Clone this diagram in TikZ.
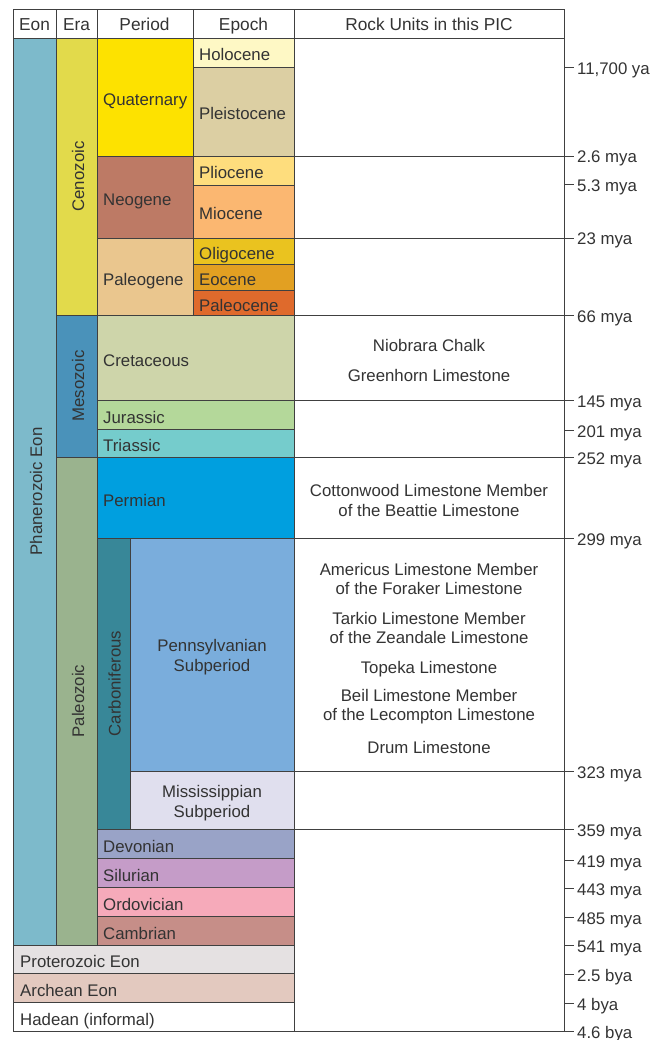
\documentclass[tikz,border=0pt]{standalone}
\usepackage{fontspec}
\setmainfont{Liberation Sans}
\usepackage{xcolor}

\definecolor{rule}{HTML}{404040}
\definecolor{ink}{HTML}{333333}
\definecolor{phanero}{HTML}{7DBACB}
\definecolor{ceno}{HTML}{E2DA4B}
\definecolor{meso}{HTML}{4A92BA}
\definecolor{paleo}{HTML}{9AB38E}
\definecolor{quat}{HTML}{FDE200}
\definecolor{holo}{HTML}{FEF8C5}
\definecolor{pleisto}{HTML}{DCCFA3}
\definecolor{neo}{HTML}{BD7A65}
\definecolor{plio}{HTML}{FEDD7D}
\definecolor{mio}{HTML}{FBB771}
\definecolor{paleog}{HTML}{EAC68E}
\definecolor{oligo}{HTML}{EAC31F}
\definecolor{eo}{HTML}{E2A022}
\definecolor{paleoc}{HTML}{DF6A2C}
\definecolor{creta}{HTML}{CED5AA}
\definecolor{jura}{HTML}{B4D89A}
\definecolor{trias}{HTML}{75CCCC}
\definecolor{perm}{HTML}{009FDF}
\definecolor{carbo}{HTML}{388798}
\definecolor{penn}{HTML}{7AADDC}
\definecolor{missi}{HTML}{E0DFEE}
\definecolor{devo}{HTML}{99A3C7}
\definecolor{silu}{HTML}{C59CC8}
\definecolor{ordo}{HTML}{F6AABA}
\definecolor{camb}{HTML}{C68E88}
\definecolor{protero}{HTML}{E5E1E2}
\definecolor{arche}{HTML}{E3C9BF}

\begin{document}
\begin{tikzpicture}[x=1pt,y=-1pt,
    cell/.style={draw=rule,line width=0.9pt},
    lbl/.style={inner sep=0pt,text=ink,font=\fontsize{16.8}{19.5}\selectfont,text height=12pt,text depth=0pt},
    head/.style={lbl,font=\fontsize{17.3}{19.5}\selectfont},
    twoline/.style={inner sep=0pt,text=ink,font=\fontsize{16.8}{19.5}\selectfont,align=center}]
        \useasboundingbox (0,0) rectangle (662,1040);

        % Entete
        \draw[cell] (13,9) rectangle (56,38);
        \draw[cell] (56,9) rectangle (97,38);
        \draw[cell] (97,9) rectangle (193,38);
        \draw[cell] (193,9) rectangle (294,38);
        \draw[cell] (294,9) rectangle (564,38);
        \path (34.5,25) node[head] (hEon) {Eon};
        \path (76.5,25) node[head] (hEra) {Era};
        \path (144.5,25) node[head] (hPeriod) {Period};
        \path (243.5,25) node[head] (hEpoch) {Epoch};
        \path (429,25) node[head] (hRock) {Rock Units in this PIC};

        % Colonne des roches et graduations
        \draw[cell] (294,38) rectangle (564,1031);
        \foreach \y in {156,238,315,400,457,538,771,829,1031}
            \draw[cell] (294,\y) -- (574,\y);
        \foreach \y in {67,184,430,860,888,917,945,974,1003}
            \draw[cell] (564,\y) -- (574,\y);

        % Ages
        \path (577,69) node[lbl,anchor=west] (a1) {11,700 ya};
        \path (577,157) node[lbl,anchor=west] (a2) {2.6 mya};
        \path (577,185.5) node[lbl,anchor=west] (a3) {5.3 mya};
        \path (577,239) node[lbl,anchor=west] (a4) {23 mya};
        \path (577,316) node[lbl,anchor=west] (a5) {66 mya};
        \path (577,401) node[lbl,anchor=west] (a6) {145 mya};
        \path (577,431) node[lbl,anchor=west] (a7) {201 mya};
        \path (577,458) node[lbl,anchor=west] (a8) {252 mya};
        \path (577,539) node[lbl,anchor=west] (a9) {299 mya};
        \path (577,772) node[lbl,anchor=west] (a10) {323 mya};
        \path (577,830) node[lbl,anchor=west] (a11) {359 mya};
        \path (577,861) node[lbl,anchor=west] (a12) {419 mya};
        \path (577,889) node[lbl,anchor=west] (a13) {443 mya};
        \path (577,918) node[lbl,anchor=west] (a14) {485 mya};
        \path (577,946) node[lbl,anchor=west] (a15) {541 mya};
        \path (577,975) node[lbl,anchor=west] (a16) {2.5 bya};
        \path (577,1004) node[lbl,anchor=west] (a17) {4 bya};
        \path (577,1032) node[lbl,anchor=west] (a18) {4.6 bya};

        % Eon et eres
        \draw[cell,fill=phanero] (13,38) rectangle (56,945);
        \path (36,491.5) node[lbl,rotate=90] (phanerozoic) {Phanerozoic Eon};
        \draw[cell,fill=ceno] (56,38) rectangle (97,315);
        \path (78,176.5) node[lbl,rotate=90] (cenozoic) {Cenozoic};
        \draw[cell,fill=meso] (56,315) rectangle (97,457);
        \path (78,386) node[lbl,rotate=90] (mesozoic) {Mesozoic};
        \draw[cell,fill=paleo] (56,457) rectangle (97,945);
        \path (78,701) node[lbl,rotate=90] (paleozoic) {Paleozoic};

        % Periodes
        \draw[cell,fill=quat] (97,38) rectangle (193,156);
        \path (103,99.5) node[lbl,anchor=west] (quaternary) {Quaternary};
        \draw[cell,fill=neo] (97,156) rectangle (193,238);
        \path (103,199.5) node[lbl,anchor=west] (neogene) {Neogene};
        \draw[cell,fill=paleog] (97,238) rectangle (193,315);
        \path (103,279) node[lbl,anchor=west] (paleogene) {Paleogene};
        \draw[cell,fill=creta] (97,315) rectangle (294,400);
        \path (103,360) node[lbl,anchor=west] (cretaceous) {Cretaceous};
        \draw[cell,fill=jura] (97,400) rectangle (294,429);
        \path (103,417) node[lbl,anchor=west] (jurassic) {Jurassic};
        \draw[cell,fill=trias] (97,429) rectangle (294,457);
        \path (103,445.5) node[lbl,anchor=west] (triassic) {Triassic};
        \draw[cell,fill=perm] (97,457) rectangle (294,538);
        \path (103,500) node[lbl,anchor=west] (permian) {Permian};
        \draw[cell,fill=carbo] (97,538) rectangle (130,829);
        \path (114.5,683.5) node[lbl,rotate=90] (carboniferous) {Carboniferous};
        \draw[cell,fill=penn] (130,538) rectangle (294,771);
        \path (212,657) node[twoline] (pennsylvanian) {Pennsylvanian\\Subperiod};
        \draw[cell,fill=missi] (130,771) rectangle (294,829);
        \path (212,803) node[twoline] (mississippian) {Mississippian\\Subperiod};
        \draw[cell,fill=devo] (97,829) rectangle (294,858);
        \path (103,846) node[lbl,anchor=west] (devonian) {Devonian};
        \draw[cell,fill=silu] (97,858) rectangle (294,887);
        \path (103,875) node[lbl,anchor=west] (silurian) {Silurian};
        \draw[cell,fill=ordo] (97,887) rectangle (294,916);
        \path (103,904) node[lbl,anchor=west] (ordovician) {Ordovician};
        \draw[cell,fill=camb] (97,916) rectangle (294,945);
        \path (103,933) node[lbl,anchor=west] (cambrian) {Cambrian};

        % Eons anciens
        \draw[cell,fill=protero] (13,945) rectangle (294,973);
        \path (20,961.5) node[lbl,anchor=west] (proterozoic) {Proterozoic Eon};
        \draw[cell,fill=arche] (13,973) rectangle (294,1002);
        \path (20,990) node[lbl,anchor=west] (archean) {Archean Eon};
        \draw[cell,fill=white] (13,1002) rectangle (294,1031);
        \path (20,1019) node[lbl,anchor=west] (hadean) {Hadean (informal)};

        % Epoques
        \draw[cell,fill=holo] (193,38) rectangle (294,67);
        \path (199,55) node[lbl,anchor=west] (holocene) {Holocene};
        \draw[cell,fill=pleisto] (193,67) rectangle (294,156);
        \path (199,114) node[lbl,anchor=west] (pleistocene) {Pleistocene};
        \draw[cell,fill=plio] (193,156) rectangle (294,185);
        \path (199,173) node[lbl,anchor=west] (pliocene) {Pliocene};
        \draw[cell,fill=mio] (193,185) rectangle (294,238);
        \path (199,214) node[lbl,anchor=west] (miocene) {Miocene};
        \draw[cell,fill=oligo] (193,238) rectangle (294,264);
        \path (199,253.5) node[lbl,anchor=west] (oligocene) {Oligocene};
        \draw[cell,fill=eo] (193,264) rectangle (294,290);
        \path (199,279.5) node[lbl,anchor=west] (eocene) {Eocene};
        \draw[cell,fill=paleoc] (193,290) rectangle (294,315);
        \path (199,305) node[lbl,anchor=west] (paleocene) {Paleocene};

        % Unites de roches
        \path (429,345.5) node[lbl] (niobrara) {Niobrara Chalk};
        \path (429,375.5) node[lbl] (greenhorn) {Greenhorn Limestone};
        \path (429,500.5) node[twoline] (cottonwood) {Cottonwood Limestone Member\\of the Beattie Limestone};
        \path (429,579) node[twoline] (americus) {Americus Limestone Member\\of the Foraker Limestone};
        \path (429,628) node[twoline] (tarkio) {Tarkio Limestone Member\\of the Zeandale Limestone};
        \path (429,667.5) node[lbl] (topeka) {Topeka Limestone};
        \path (429,706.5) node[twoline] (beil) {Beil Limestone Member\\of the Lecompton Limestone};
        \path (429,747) node[lbl] (drum) {Drum Limestone};
    \end{tikzpicture}
\end{document}
